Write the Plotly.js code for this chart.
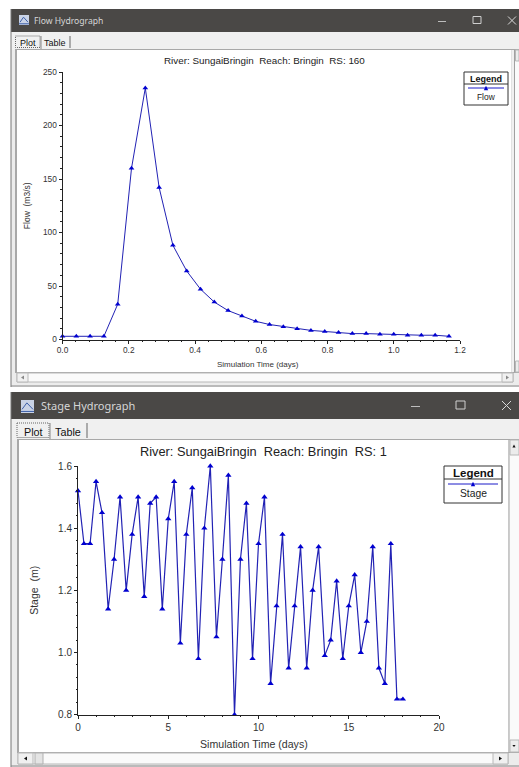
<!DOCTYPE html>
<html><head><meta charset="utf-8">
<script src="https://cdn.plot.ly/plotly-3.0.1.min.js"></script>
<style>html,body{margin:0;padding:0;background:#fff;overflow:hidden}#c{width:519px;height:767px}</style>
</head><body><div id="c"></div>
<script>
const flowTime=[0,0.0417,0.0833,0.125,0.1667,0.2083,0.25,0.2917,0.3333,0.375,0.4167,0.4583,0.5,0.5417,0.5833,0.625,0.6667,0.7083,0.75,0.7917,0.8333,0.875,0.9167,0.9583,1,1.0417,1.0833,1.125,1.1667];
const flowValues=[3,3,3,3,33,160,235,142,88,64,47,35,27,22,17,14,12,10,8.5,7.5,6.5,5.5,5.5,5,5,4,4,4,3];
const stageTime=[0,0.33,0.67,1,1.33,1.67,2,2.33,2.67,3,3.33,3.67,4,4.33,4.67,5,5.33,5.67,6,6.33,6.67,7,7.33,7.67,8,8.33,8.67,9,9.33,9.67,10,10.33,10.67,11,11.33,11.67,12,12.33,12.67,13,13.33,13.67,14,14.33,14.67,15,15.33,15.67,16,16.33,16.67,17,17.33,17.67,18];
const stageValues=[1.52,1.35,1.35,1.55,1.45,1.14,1.3,1.5,1.2,1.38,1.5,1.18,1.48,1.5,1.14,1.43,1.55,1.03,1.38,1.53,0.98,1.4,1.6,1.05,1.3,1.57,0.8,1.3,1.48,0.98,1.35,1.5,0.9,1.15,1.38,0.95,1.15,1.34,0.95,1.2,1.34,0.99,1.04,1.23,0.98,1.15,1.25,1.0,1.1,1.34,0.95,0.9,1.35,0.85,0.85];
const flowXTicks=[0,0.2,0.4,0.6,0.8,1.0,1.2];
const flowXLabels=['0.0','0.2','0.4','0.6','0.8','1.0','1.2'];
const flowYTicks=[0,50,100,150,200,250];
const stageXTicks=[0,5,10,15,20];
const stageYTicks=[0.8,1.0,1.2,1.4,1.6];
const stageYLabels=['0.8','1.0','1.2','1.4','1.6'];

const W=519,H=767;
const px=x=>x/W, py=y=>1-y/H;
const FONT='"Liberation Sans",Arial,sans-serif';
const BLUE='#2222b4', MARK='#0000d0';
const shapes=[];
function rect(x0,y0,x1,y1,fill,line,lw){shapes.push({type:'rect',xref:'paper',yref:'paper',x0:px(x0),x1:px(x1),y0:py(y0),y1:py(y1),fillcolor:fill||'rgba(0,0,0,0)',line:{color:line||'rgba(0,0,0,0)',width:line?(lw||1):0},layer:'below'});}
function seg(x0,y0,x1,y1,c,w,dash){shapes.push({type:'line',xref:'paper',yref:'paper',x0:px(x0),x1:px(x1),y0:py(y0),y1:py(y1),line:{color:c,width:w||1,dash:dash||'solid'},layer:'below'});}
function poly(pts,c){const p=a=>px(a[0]).toFixed(5)+','+py(a[1]).toFixed(5);shapes.push({type:'path',xref:'paper',yref:'paper',path:'M'+pts.map(p).join(' L')+' Z',fillcolor:c,line:{width:0},layer:'above'});}
function tri(cx,cy,s,c){poly([[cx-s,cy+s],[cx+s,cy+s],[cx,cy-s]],c);}
const ann=[];
function txt(x,y,t,size,color,extra){ann.push(Object.assign({xref:'paper',yref:'paper',x:px(x),y:py(y),text:t,showarrow:false,xanchor:'center',yanchor:'middle',font:{family:FONT,size:size,color:color||'#222'},borderpad:0,borderwidth:0},extra||{}));}

function win(o){
  const midB=(o.top+o.barB)/2;
  rect(o.l,o.top,W,o.bot,'#ececec');
  rect(o.l,o.top,W,o.barB,'#4a4846');
  rect(o.l,o.barB,W,o.plotT,'#f0f0f0');
  rect(o.pl-2,o.plotT-1,W,o.plotB+1,'#a8a8a8');
  rect(o.pl,o.plotT,o.pr,o.plotB,'#ffffff');
  // right scrollbar
  rect(o.pr,o.plotT,W,o.plotB,'#f0f0f0');
  rect(o.vs,o.plotT,W,o.plotB,'#fafafa');
  seg(o.vs,o.plotT,o.vs,o.plotB,'#a0a0a0',1);
  rect(o.vs+1,o.plotT,W,o.plotT+o.vb,'#ececec','#b8b8b8',1);
  rect(o.vs+1,o.vd,W,o.plotB,'#ececec','#b8b8b8',1);
  if(o.arrows){tri(o.vs+5,o.plotT+6,1.6,'#111');poly([[o.vs+3.4,o.vd+5],[o.vs+6.6,o.vd+5],[o.vs+5,o.vd+7]],'#111');}
  // bottom scrollbar
  rect(o.pl-2,o.plotB+1,W,o.bot-2,'#ececec');
  rect(o.sbL,o.sbT,o.sbR,o.sbB,'#fafafa','#b8b8b8',1);
  rect(o.sbL,o.sbT,o.sbL+o.ab,o.sbB,'#f0f0f0','#b8b8b8',1);
  rect(o.sbR-o.ab,o.sbT,o.sbR,o.sbB,'#f0f0f0','#b8b8b8',1);
  if(o.thumb){rect(o.thumb[0],o.sbT,o.thumb[1],o.sbB,'#e4e4e4','#b0b0b0',1);}
  const ac=o.arrows?'#111':'#888', mid=(o.sbT+o.sbB)/2, lx=o.sbL+o.ab/2, rx=o.sbR-o.ab/2;
  poly([[lx-1.5,mid],[lx+1.5,mid-2],[lx+1.5,mid+2]],ac);
  poly([[rx+1.5,mid],[rx-1.5,mid-2],[rx-1.5,mid+2]],ac);
  seg(o.l,o.top,o.l,o.bot,'#777',1);
  seg(o.l,o.bot-1,W,o.bot-1,'#888',1);
  // icon
  rect(o.ix,o.iy,o.ix+o.ic,o.iy+o.ic,'#c9d3e6');
  shapes.push({type:'path',xref:'paper',yref:'paper',layer:'below',line:{color:'#3d5fa8',width:1},
    path:'M'+px(o.ix+1)+','+py(o.iy+o.ic*0.72)+' L'+px(o.ix+o.ic*0.45)+','+py(o.iy+o.ic*0.22)+' L'+px(o.ix+o.ic-1)+','+py(o.iy+o.ic*0.72)});
  seg(o.ix,o.iy+o.ic*0.88,o.ix+o.ic,o.iy+o.ic*0.88,'#3d5fa8',1);
  // window buttons
  seg(o.minx,midB+1,o.minx+o.bs,midB+1,'#bdbdbd',1);
  rect(o.maxx,midB-o.bs/2,o.maxx+o.bs,midB+o.bs/2-1,'rgba(0,0,0,0)','#cfcfcf',1);
  seg(o.cx,midB-o.bs/2,o.cx+o.bs,midB+o.bs/2,'#d8d8d8',1);
  seg(o.cx,midB+o.bs/2,o.cx+o.bs,midB-o.bs/2,'#d8d8d8',1);
  // tabs
  shapes.push({type:'rect',xref:'paper',yref:'paper',x0:px(o.focus[0]),x1:px(o.focus[2]),y0:py(o.focus[1]),y1:py(o.focus[3]),line:{color:'#666',width:1,dash:'1px,1px'},layer:'below'});
  seg(o.focus[2]+1,o.focus[1],o.focus[2]+1,o.plotT-1,'#888',1);
  seg(o.tabR,o.focus[1],o.tabR,o.plotT-2,'#666',1);
  txt(o.plotX,o.tabY,'Plot',o.tabF,'#111');
  txt(o.tableX,o.tabY,'Table',o.tabF,'#111');
  // title bar
  txt(o.titleX,midB,o.title,o.titleF,'#d6d6d6',{xanchor:'left',font:{family:'"Noto Sans",sans-serif',size:o.titleF,color:'#d6d6d6'}});
  // legend box
  rect(o.lg[0],o.lg[1],o.lg[2],o.lg[3],'#ffffff','#333',1);
  seg(o.lg[0],o.lg[4],o.lg[2],o.lg[4],'#333',1);
  seg(o.lg[0]+4,o.lg[5],o.lg[2]-4,o.lg[5],'#1a1ac8',1);
  tri((o.lg[0]+o.lg[2])/2,o.lg[5],2.2,'#0000d0');
  txt((o.lg[0]+o.lg[2])/2,(o.lg[1]+o.lg[4])/2+0.5,'<b>Legend</b>',o.lgF[0],'#111');
  txt((o.lg[0]+o.lg[2])/2,o.lg[6],o.lgName,o.lgF[1],'#222');
  txt(o.hx,o.hy,o.head,o.headF,'#222');
  txt(o.xt[0],o.xt[1],'Simulation Time (days)',o.xt[2],'#333');
}
win({l:11,top:9,barB:32,plotT:50,pl:17,pr:511.5,vs:514.5,vb:11,vd:361,plotB:372,bot:387,
  sbL:17,sbR:513,sbT:373,sbB:382,ab:11,arrows:false,
  ix:19,iy:15,ic:10,minx:438,maxx:473,cx:508,bs:8,
  focus:[15.5,36,40,47.5],tabR:70,plotX:28,tableX:54.5,tabY:43,tabF:9,titleX:34,title:'Flow Hydrograph',titleF:8.6,
  lg:[464,72,508,105,84,88,97],lgF:[9,8.4],lgName:'Flow',hx:264.5,hy:60,head:'River: SungaiBringin\u00a0\u00a0Reach: Bringin\u00a0\u00a0RS: 160',headF:9.85,xt:[258,364.5,8]});
win({l:11,top:392,barB:419,plotT:440,pl:19,pr:508,vs:509,vb:15,vd:740,plotB:752,bot:767,
  sbL:18,sbR:508,sbT:753,sbB:764,ab:15,thumb:[35,43],arrows:true,
  ix:21,iy:400,ic:13,minx:411,maxx:456,cx:502,bs:9,
  focus:[17,423,49,437.5],tabR:87,plotX:33,tableX:68,tabY:432,tabF:10.8,titleX:41,title:'Stage Hydrograph',titleF:11,
  lg:[444,466,502,503,479,484,494],lgF:[11.5,10.3],lgName:'Stage',hx:263.5,hy:452,head:'River: SungaiBringin\u00a0\u00a0Reach: Bringin\u00a0\u00a0RS: 1',headF:12.8,xt:[253.5,744,10.6]});

function axis(dom,range,vals,labels,dtick,size,anchor,title,titleSize,standoff){
  const a={domain:dom,range:range,anchor:anchor,tickmode:'array',tickvals:vals,ticktext:labels,
    showgrid:false,zeroline:false,showline:true,linecolor:'#222',linewidth:1,ticks:'outside',ticklen:3,tickcolor:'#222',tickwidth:1,
    minor:{dtick:dtick,ticks:'outside',ticklen:1.5,tickcolor:'#222',tickwidth:1,showgrid:false},
    tickfont:{family:FONT,size:size,color:'#333'},automargin:false,fixedrange:true};
  if(title)a.title={text:title,standoff:standoff,font:{family:FONT,size:titleSize,color:'#333'}};
  return a;
}
const fmt=a=>a.map(String);
const layout={width:W,height:H,margin:{l:0,r:0,t:0,b:0,pad:0},paper_bgcolor:'#ffffff',plot_bgcolor:'rgba(0,0,0,0)',showlegend:false,shapes:shapes,annotations:ann,
  xaxis:axis([px(62.5),px(460)],[0,1.2],flowXTicks,flowXLabels,0.04,8.3,'y'),
  yaxis:axis([py(339.5),py(72)],[0,250],flowYTicks,fmt(flowYTicks),10,8.3,'x','Flow\u00a0\u00a0(m3/s)',8.5,11),
  xaxis2:axis([px(78),px(439)],[0,20],stageXTicks,fmt(stageXTicks),1,10,'y2'),
  yaxis2:axis([py(714.7),py(466)],[0.8,1.6],stageYTicks,stageYLabels,0.04,10,'x2','Stage\u00a0\u00a0(m)',10.5,17)
};
const base={type:'scatter',mode:'lines+markers',hoverinfo:'skip',cliponaxis:false};
const data=[
 Object.assign({},base,{name:'Flow',x:flowTime,y:flowValues,xaxis:'x',yaxis:'y',line:{color:BLUE,width:1},marker:{symbol:'triangle-up',size:5,color:MARK}}),
 Object.assign({},base,{name:'Stage',x:stageTime,y:stageValues,xaxis:'x2',yaxis:'y2',line:{color:BLUE,width:1.2},marker:{symbol:'triangle-up',size:5.5,color:MARK}})
];
Plotly.newPlot('c',data,layout,{displayModeBar:false,staticPlot:true});
</script></body></html>
